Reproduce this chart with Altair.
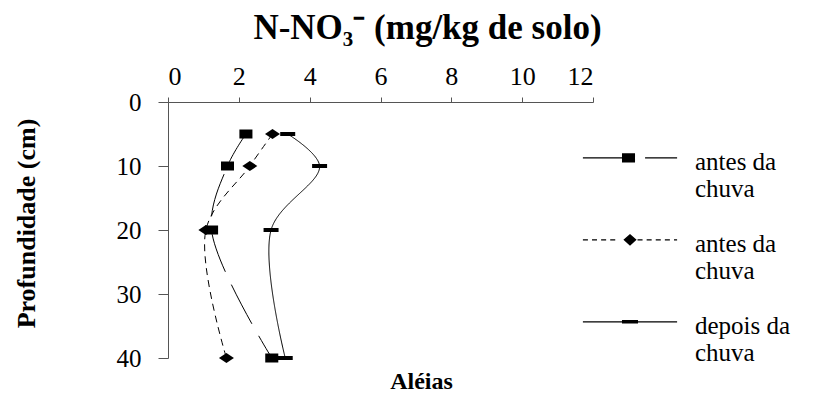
import altair as alt
import pandas as pd

# ---- data ----
depth = [5, 10, 20, 40]
series = ["antes da chuva", "antes da chuva ", "depois da chuva"]
s1_values = [2.20, 1.68, 1.23, 2.93]   # squares, long-dash line
s2_values = [2.95, 2.31, 1.07, 1.65]   # diamonds, dashed line
s3_values = [3.38, 4.28, 2.91, 3.31]   # short bars, solid line
x_ticks = [0, 2, 4, 6, 8, 10, 12]
y_ticks = [0, 10, 20, 30, 40]

rows = []
for name, vals in [(series[2], s3_values), (series[1], s2_values), (series[0], s1_values)]:
    for d, v in zip(depth, vals):
        rows.append({"serie": name, "prof": d, "no3": v})
df = pd.DataFrame(rows)

FONT = "Liberation Serif"

marker_paths = [
    "M-0.87,-0.6H0.87V0.6H-0.87Z",
    "M-1,0L0,-0.67L1,0L0,0.67Z",
    "M-1,-0.27H1V0.27H-1Z",
]

# legend glyphs (line + marker) built as filled shapes, shifted down a little
OFF = 0.5
T = 0.035


def rect(x0, x1, h):
    return f"M{x0:.3f},{OFF - h:.3f}H{x1:.3f}V{OFF + h:.3f}H{x0:.3f}Z"


def diamond(w, h):
    return f"M{-w:.3f},{OFF:.3f}L0,{OFF - h:.3f}L{w:.3f},{OFF:.3f}L0,{OFF + h:.3f}Z"


dashes = []
pos = -3.0
while pos < 3.0:
    end = min(pos + 0.32, 3.0)
    if end < -0.42 or pos > 0.42:
        dashes.append(rect(pos, end, T))
    pos += 0.58

legend_paths = [
    rect(-3.0, -0.51, T) + rect(-0.51, 0.32, 0.29) + rect(0.96, 3.0, T),
    "".join(dashes) + diamond(0.42, 0.38),
    rect(-3.0, 3.0, T) + rect(-0.51, 0.51, 0.11),
]

x_enc = alt.X(
    "no3:Q",
    scale=alt.Scale(domain=[0, 12], nice=False, zero=True),
    axis=alt.Axis(
        orient="top", values=x_ticks, title="N-NO₃⁻ (mg/kg de solo)",
        grid=False, domainColor="#555555", tickColor="#555555", tickSize=5,
        labelFont=FONT, labelFontSize=26, labelColor="black", labelPadding=8,
        titleFont=FONT, titleFontSize=35, titleFontWeight="bold", titleColor="black",
        titleX=259, titleY=-64, titleBaseline="alphabetic", titleAlign="center",
    ),
)
y_enc = alt.Y(
    "prof:Q",
    scale=alt.Scale(domain=[0, 40], reverse=True, nice=False),
    axis=alt.Axis(
        values=y_ticks, title="Profundidade (cm)", grid=False,
        domainColor="#555555", tickColor="#555555", tickSize=10,
        labelFont=FONT, labelFontSize=25, labelColor="black", labelPadding=17,
        titleFont=FONT, titleFontSize=26, titleFontWeight="bold", titleColor="black",
        titleX=-142, titleY=121, titleBaseline="middle", titleAlign="center", titleAngle=270,
    ),
)

lines = alt.Chart(df).mark_line(
    interpolate="catmull-rom", color="black", strokeWidth=1, strokeDashOffset=12
).encode(
    x=x_enc, y=y_enc, order="prof:Q",
    strokeDash=alt.StrokeDash(
        "serie:N",
        scale=alt.Scale(domain=series, range=[[44, 14], [7, 5], [1, 0]]),
        legend=None,
    ),
)

points = alt.Chart(df).mark_point(filled=True, color="black", opacity=1, size=225).encode(
    x="no3:Q", y="prof:Q",
    shape=alt.Shape("serie:N", scale=alt.Scale(domain=series, range=marker_paths), legend=None),
)

leg = alt.Legend(
    title=None, orient="none", legendX=446, legendY=32,
    symbolSize=986, symbolStrokeWidth=0, symbolFillColor="black",
    labelFont=FONT, labelFontSize=25, labelColor="black", labelLimit=0, labelOffset=49,
    labelBaseline="top", rowPadding=14,
    labelExpr="[substring(trim(datum.label), 0, lastindexof(trim(datum.label), ' ')), "
              "substring(trim(datum.label), lastindexof(trim(datum.label), ' ') + 1)]",
)

legend_layer = alt.Chart(df).transform_filter("false").mark_point(
    filled=True, color="black", opacity=1
).encode(
    x="no3:Q", y="prof:Q",
    shape=alt.Shape("serie:N", scale=alt.Scale(domain=series, range=legend_paths), legend=leg),
)

chart = alt.layer(lines, points, legend_layer).resolve_scale(
    shape="independent", strokeDash="independent"
).properties(
    width=425, height=256,
    autosize=alt.AutoSizeParams(type="none"),
    padding={"left": 160, "top": 94, "right": 227, "bottom": 37},
    title=alt.TitleParams(
        "Aléias", orient="bottom", font=FONT, fontSize=24, fontWeight="bold",
        color="black", anchor="middle", dx=41, dy=-5, offset=4,
    ),
).configure(
    font=FONT, background="white"
).configure_view(stroke=None).configure_axis(
    labelFont=FONT, titleFont=FONT
).configure_legend(labelFont=FONT).configure_title(font=FONT)

chart.save("out.html", embed_options={"renderer": "svg", "actions": False})
